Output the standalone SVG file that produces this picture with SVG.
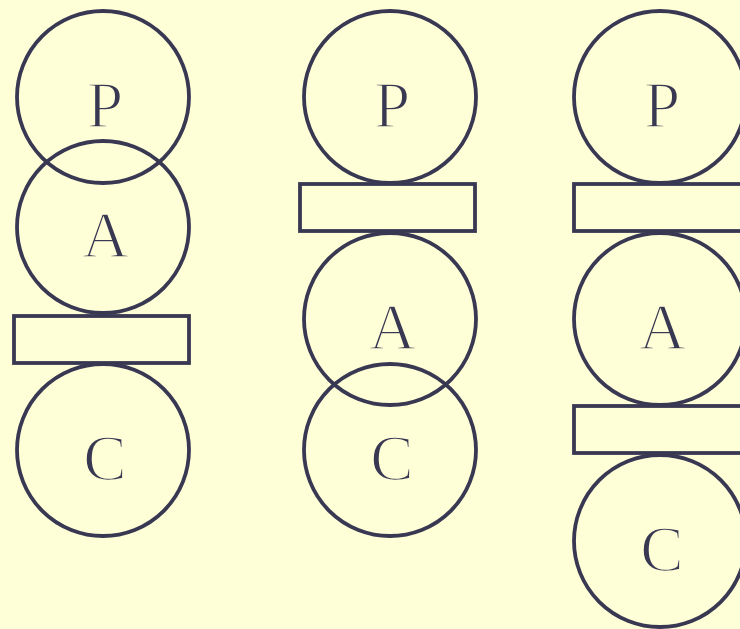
<svg xmlns="http://www.w3.org/2000/svg" width="740" height="629" viewBox="0 0 740 629">
<style>
.c{fill:none;stroke:#393853;stroke-width:3.8}
.r{fill:none;stroke:#393853;stroke-width:3.8}
.t{font-family:"Liberation Serif","DejaVu Serif",serif;font-size:65px;fill:#393853;stroke:#FEFED7;stroke-width:1.6;text-anchor:middle}
</style>
<rect x="0" y="0" width="740" height="629" fill="#FEFED7"/>
<g id="col1">
<g id="p1"><circle class="c" cx="103" cy="97" r="86"/><text class="t" x="105" y="127">P</text></g>
<g id="a1"><circle class="c" cx="103" cy="227" r="86"/><text class="t" x="105.5" y="257">A</text></g>
<g id="b1"><rect class="r" x="14" y="316" width="175" height="47"/></g>
<g id="c1"><circle class="c" cx="103" cy="450" r="86"/><text class="t" x="105" y="480">C</text></g>
</g>
<g id="col2">
<g id="p2"><circle class="c" cx="390" cy="97" r="86"/><text class="t" x="392" y="127">P</text></g>
<g id="b2"><rect class="r" x="300" y="184" width="175" height="47"/></g>
<g id="a2"><circle class="c" cx="390" cy="319" r="86"/><text class="t" x="392.5" y="349">A</text></g>
<g id="c2"><circle class="c" cx="390" cy="450" r="86"/><text class="t" x="392" y="480">C</text></g>
</g>
<g id="col3">
<g id="p3"><circle class="c" cx="660" cy="97" r="86"/><text class="t" x="662" y="127">P</text></g>
<g id="b3"><rect class="r" x="574" y="184" width="175" height="47"/></g>
<g id="a3"><circle class="c" cx="660" cy="319" r="86"/><text class="t" x="662.5" y="349">A</text></g>
<g id="b4"><rect class="r" x="574" y="406" width="175" height="47"/></g>
<g id="c3"><circle class="c" cx="660" cy="541" r="86"/><text class="t" x="662" y="571">C</text></g>
</g>
<g id="connectors"></g>
</svg>
